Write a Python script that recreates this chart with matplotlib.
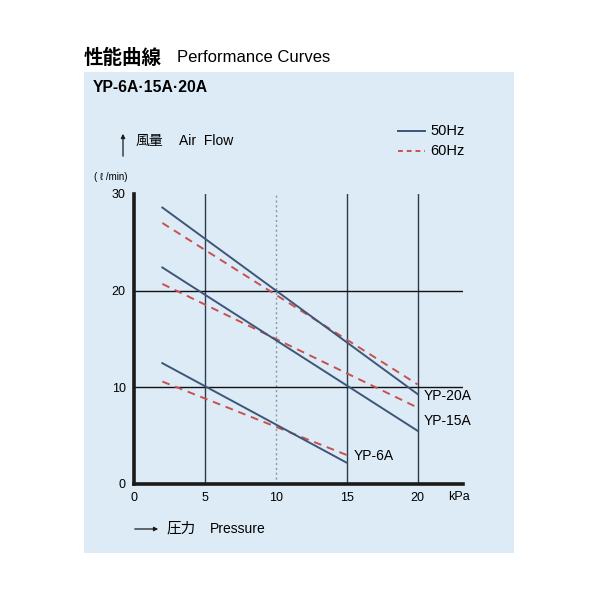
import matplotlib.pyplot as plt
from matplotlib.patches import Rectangle

latin = ['Liberation Sans', 'Noto Sans CJK JP']
cjk = ['Noto Sans CJK JP', 'Liberation Sans']
plt.rcParams['font.family'] = latin

# pressure (kPa) vs air flow (l/min)
p_20a = [2, 20]
flow_20a_50 = [28.6, 9.3]
flow_20a_60 = [27.0, 10.3]

p_15a = [2, 20]
flow_15a_50 = [22.4, 5.5]
flow_15a_60 = [20.7, 7.9]

p_6a = [2, 15]
flow_6a_50 = [12.5, 2.2]
flow_6a_60 = [10.6, 3.0]

x_ticks = [0, 5, 10, 15, 20]
y_ticks = [0, 10, 20, 30]

blue = '#3e5677'
red = '#c9504f'
panel = '#dcebf6'

fig = plt.figure(figsize=(6, 6), dpi=100)
fig.patch.set_facecolor('white')
fig.patches.append(Rectangle((84 / 600, 1 - 553 / 600), 430 / 600, 481 / 600,
                             transform=fig.transFigure, facecolor=panel,
                             edgecolor='none', zorder=-10))

ax = fig.add_axes([134 / 600, 1 - 484 / 600, 329 / 600, 290 / 600])
ax.set_facecolor('none')
ax.set_xlim(0, 23.2)
ax.set_ylim(0, 30)

# grid: solid verticals at 5/15/20, dotted at 10, horizontals at 10/20
for x in [5, 15, 20]:
    ax.plot([x, x], [0, 30], color='#2d3a4a', lw=1.0, zorder=1)
ax.plot([10, 10], [0, 30], color='#8a96a3', lw=1.0, ls=(0, (1.5, 2)), zorder=1)
for y in [10, 20]:
    ax.axhline(y, color='#111111', lw=1.0, zorder=1)

dash = (0, (4, 3))
for p, f50, f60 in [(p_20a, flow_20a_50, flow_20a_60),
                    (p_15a, flow_15a_50, flow_15a_60),
                    (p_6a, flow_6a_50, flow_6a_60)]:
    ax.plot(p, f60, color=red, lw=1.4, ls=dash, zorder=3)
    ax.plot(p, f50, color=blue, lw=1.4, zorder=4)

ax.text(20.4, flow_20a_50[1] - 0.2, 'YP-20A', fontsize=10, va='center')
ax.text(20.4, 6.5, 'YP-15A', fontsize=10, va='center')
ax.text(15.5, flow_6a_60[1] - 0.1, 'YP-6A', fontsize=10, va='center')

for s in ['top', 'right']:
    ax.spines[s].set_visible(False)
for s in ['left', 'bottom']:
    ax.spines[s].set_linewidth(2.6)
    ax.spines[s].set_color('#1a1a1a')
ax.set_xticks(x_ticks)
ax.set_yticks(y_ticks)
ax.tick_params(length=0, labelsize=9, pad=6)

# overlay in pixel coords for captions and legend
ax2 = fig.add_axes([0, 0, 1, 1], facecolor='none')
ax2.set_xlim(0, 600)
ax2.set_ylim(600, 0)
ax2.axis('off')

ax2.text(459, 497, 'kPa', fontsize=9, ha='center', va='center')

ax2.text(84, 58, '性能曲線', family=cjk, fontsize=14, fontweight='bold', va='center')
ax2.text(177, 58, 'Performance Curves', fontsize=12, va='center')
ax2.text(93, 87, 'YP-6A·15A·20A', fontsize=11.3, fontweight='bold', va='center')

ax2.annotate('', xy=(123, 131), xytext=(123, 159),
             arrowprops=dict(arrowstyle='-|>', color='#1a1a1a', lw=0.9,
                             mutation_scale=6))
ax2.text(136, 141, '風量', family=cjk, fontsize=10, va='center')
ax2.text(179, 141, 'Air  Flow', fontsize=10, va='center')
ax2.text(94, 177, '( ℓ /min)', fontsize=7, va='center')

ax2.annotate('', xy=(161, 529), xytext=(132, 529),
             arrowprops=dict(arrowstyle='-|>', color='#1a1a1a', lw=0.9,
                             mutation_scale=6))
ax2.text(166, 529, '圧力', family=cjk, fontsize=10.5, va='center')
ax2.text(210, 529, 'Pressure', fontsize=10, va='center')

# legend
ax2.plot([398, 425], [131, 131], color=blue, lw=1.4)
ax2.plot([398, 425], [151, 151], color=red, lw=1.4, ls=(0, (2.5, 2)))
ax2.text(430, 131, '50Hz', fontsize=10.5, va='center')
ax2.text(430, 151, '60Hz', fontsize=10.5, va='center')

fig.savefig('out.png', dpi=100, facecolor='white')
